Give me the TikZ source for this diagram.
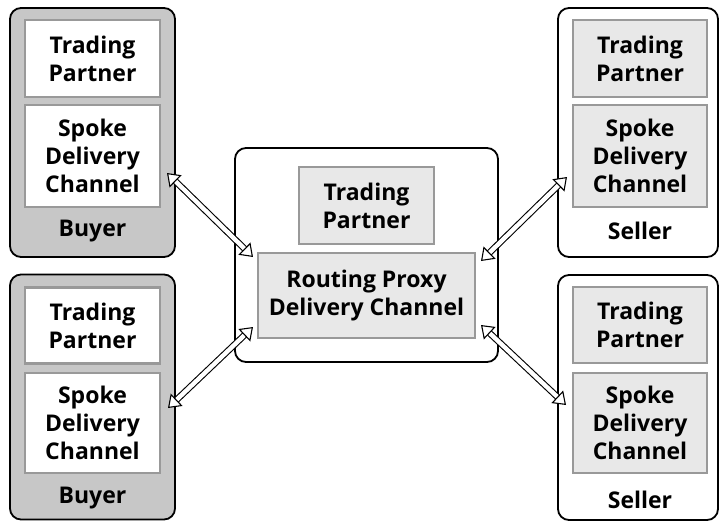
\documentclass[tikz,border=0pt]{standalone}
\usepackage{fontspec}
\setmainfont{Open Sans}
\usetikzlibrary{arrows.meta}
\colorlet{boxline}{black!40}
\colorlet{boxfill}{black!9}
\colorlet{buyerfill}{black!22}

\begin{document}
\begin{tikzpicture}[
x=1pt, y=-1pt,
Party/.style={draw=black,line width=1.8pt,rounded corners=11pt,inner sep=0pt},
Inner/.style={draw=boxline,line width=2.2pt,fill=boxfill,inner sep=0pt,
  minimum width=135pt,align=center,font=\bfseries\fontsize{23}{28}\selectfont},
Label/.style={font=\bfseries\fontsize{23}{28}\selectfont},
Link/.style={draw=black,line width=1.1pt,double=white,double distance=4.4pt,
  {Triangle[fill=white,length=12pt,width=17pt]}-{Triangle[fill=white,length=12pt,width=17pt]}},
every node/.style={scale=1}
]
\useasboundingbox (0,0) rectangle (719,523);

% buyers on the left
\node[Party,fill=buyerfill,minimum width=165pt,minimum height=249pt] (buyerA) at (92.5,132.5) {};
\node[Inner,fill=white,minimum height=77pt] (tpA) at (92.5,58.5) {Trading\\Partner};
\node[Inner,fill=white,minimum height=102pt] (sdcA) at (92.5,156) {Spoke\\Delivery\\Channel};
\node[Label] (buyerAlbl) at (92.5,231) {Buyer};

\node[Party,fill=buyerfill,minimum width=165pt,minimum height=245pt] (buyerB) at (92.5,397) {};
\node[Inner,fill=white,minimum height=76pt] (tpB) at (92.5,325.5) {Trading\\Partner};
\node[Inner,fill=white,minimum height=100pt] (sdcB) at (92.5,423) {Spoke\\Delivery\\Channel};
\node[Label] (buyerBlbl) at (92.5,498) {Buyer};

% sellers on the right
\node[Party,fill=white,minimum width=160pt,minimum height=249pt] (sellerA) at (638,132.5) {};
\node[Inner,minimum width=134pt,minimum height=77pt] (tpC) at (640,58.5) {Trading\\Partner};
\node[Inner,minimum width=134pt,minimum height=102pt] (sdcC) at (640,156) {Spoke\\Delivery\\Channel};
\node[Label] (sellerAlbl) at (640,231) {Seller};

\node[Party,fill=white,minimum width=160pt,minimum height=245pt] (sellerB) at (638,397.5) {};
\node[Inner,minimum width=134pt,minimum height=76pt] (tpD) at (640,325) {Trading\\Partner};
\node[Inner,minimum width=134pt,minimum height=100pt] (sdcD) at (640,423) {Spoke\\Delivery\\Channel};
\node[Label] (sellerBlbl) at (640,500) {Seller};

% routing proxy in the middle
\node[Party,fill=white,minimum width=263pt,minimum height=214pt] (hub) at (366.5,255) {};
\node[Inner,minimum width=135pt,minimum height=77pt] (tpHub) at (366.5,205.5) {Trading\\Partner};
\node[Inner,minimum width=217pt,minimum height=85pt] (rpdc) at (366.5,295.5) {Routing Proxy\\Delivery Channel};

% arrow ends
\coordinate (aA) at (167,173);
\coordinate (aB) at (168,408);
\coordinate (aC) at (567,177);
\coordinate (aD) at (566,405);
\coordinate (hA) at (253,257);
\coordinate (hB) at (253,327);
\coordinate (hC) at (481,261);
\coordinate (hD) at (481,325);

\draw[Link] (aA) -- (hA);
\draw[Link] (aB) -- (hB);
\draw[Link] (aC) -- (hC);
\draw[Link] (aD) -- (hD);

\end{tikzpicture}
\end{document}
